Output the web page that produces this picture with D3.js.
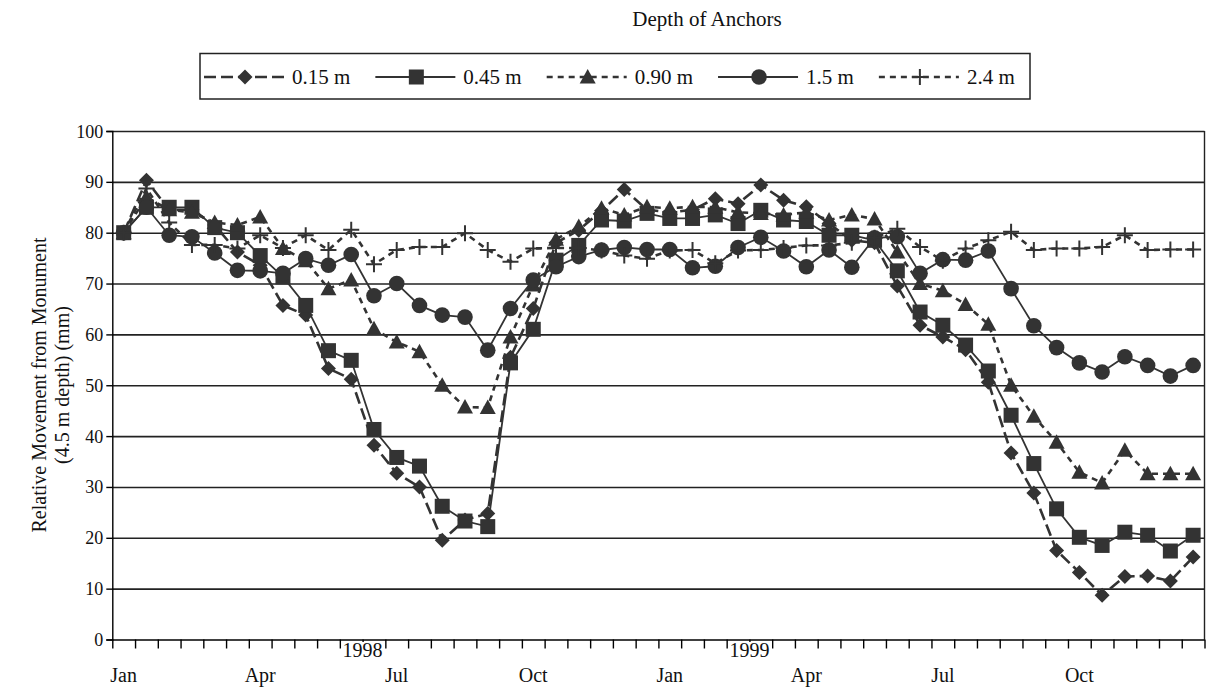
<!DOCTYPE html>
<html><head><meta charset="utf-8">
<script src="https://cdn.jsdelivr.net/npm/d3@7"></script>
<style>
html,body{margin:0;padding:0;background:#fff;}
svg{display:block;}
</style></head><body>
<svg id="chart" width="1206" height="691" font-family="'Liberation Serif','Times New Roman',serif"></svg>
<script>
// ---------------- data ----------------
const seriesNames = ["0.15 m", "0.45 m", "0.90 m", "1.5 m", "2.4 m"];
const d015 = [80, 90.3, 84.5, 84.5, 81.5, 76.2, 73.6, 65.7, 63.8, 53.3, 51.2, 38.2, 32.7, 30, 19.5, 23.5, 24.8, 55.5, 65.1, 78, 80.5, 84.3, 88.5, 84.5, 84, 84.5, 86.7, 85.7, 89.4, 86.4, 85.1, 81.8, 78.5, 78, 69.5, 61.8, 59.5, 57, 50.6, 36.7, 28.8, 17.5, 13.2, 8.7, 12.4, 12.5, 11.5, 16.2];
const d045 = [80, 85, 85, 85, 81, 80, 75.5, 71.3, 65.7, 56.8, 54.9, 41.3, 35.8, 34.1, 26.2, 23.3, 22.2, 54.4, 61, 74.6, 77.5, 82.5, 82.3, 83.8, 82.8, 82.8, 83.5, 81.8, 84.4, 82.5, 82.2, 79.5, 79.5, 78.5, 72.5, 64.4, 61.8, 57.9, 52.8, 44.1, 34.6, 25.7, 20.1, 18.5, 21.1, 20.5, 17.4, 20.5];
const d090 = [80, 87, 84.5, 84, 82, 81.5, 83.1, 76.9, 74.5, 69, 70.7, 61.1, 58.5, 56.6, 50, 45.7, 45.6, 59.5, 69.7, 78.7, 81.2, 84.8, 83.5, 85.1, 84.8, 85.1, 85, 84, 83.8, 83.5, 84, 82.5, 83.5, 82.7, 76.2, 70, 68.6, 65.9, 62, 50, 43.9, 38.8, 32.9, 30.8, 37.2, 32.6, 32.6, 32.6];
const d150 = [80, 85, 79.5, 79.2, 76, 72.6, 72.5, 72, 74.9, 73.6, 75.7, 67.6, 70, 65.7, 63.8, 63.4, 56.9, 65.1, 70.7, 73.3, 75.3, 76.6, 77.1, 76.7, 76.7, 73.1, 73.4, 77.1, 79.1, 76.4, 73.3, 76.6, 73.2, 79, 79.2, 72, 74.7, 74.6, 76.4, 69, 61.7, 57.4, 54.4, 52.6, 55.6, 53.9, 51.8, 53.9];
const d240 = [80, 88.7, 82, 77.6, 77.6, 76.9, 79.5, 77, 79.5, 76.6, 80.6, 73.8, 76.6, 77.2, 77.2, 79.9, 76.6, 74.3, 76.9, 77, 77, 76.5, 75.5, 74.9, 76.5, 76.6, 74, 76.5, 76.6, 77, 77.5, 77.5, 78, 79, 80.8, 77.2, 74.5, 76.9, 78.5, 80.2, 76.6, 76.9, 76.9, 77.2, 79.5, 76.6, 76.7, 76.7];
const monthLabels = ["Jan", "Apr", "Jul", "Oct", "Jan", "Apr", "Jul", "Oct"];
const monthCats = [0, 6, 12, 18, 24, 30, 36, 42];
const yearLabels = ["1998", "1999"];
const yearTicks = [11, 28];
const yTicks = [0, 10, 20, 30, 40, 50, 60, 70, 80, 90, 100];
const nCats = 48;
const titleText = "Depth of Anchors";
const yTitle1 = "Relative Movement from Monument";
const yTitle2 = "(4.5 m depth) (mm)";

// ---------------- layout / style ----------------
const INK = "#333";
const styles = [
  {marker: "diamond", dash: "12,5", width: 2.6},
  {marker: "square", dash: null, width: 1.8},
  {marker: "triangle", dash: "6,5", width: 2.6},
  {marker: "circle", dash: null, width: 1.8},
  {marker: "plus", dash: "6,5", width: 2.6}
];
const allSeries = [d015, d045, d090, d150, d240];

const svg = d3.select("#chart");
const L = 112.3, R = 1204.5, T = 131, B = 639.5;
const x = d3.scaleLinear().domain([0, nCats]).range([L, R]);
const y = d3.scaleLinear().domain([0, 100]).range([B, T]);
const cx = i => x(i + 0.5);

// gridlines
svg.append("g")
  .attr("transform", `translate(${L},0)`)
  .call(d3.axisLeft(y).tickValues(yTicks.filter(v => v > 0)).tickSize(-(R - L)).tickFormat(""))
  .call(g => g.select(".domain").remove())
  .call(g => g.selectAll("line").attr("stroke", "#222").attr("stroke-width", 1.6));

// right border
svg.append("line").attr("x1", R).attr("x2", R).attr("y1", y(100)).attr("y2", y(0))
  .attr("stroke", "#222").attr("stroke-width", 1.4);

// y axis
svg.append("g")
  .attr("transform", `translate(${L},0)`)
  .call(d3.axisLeft(y).tickValues(yTicks).tickSize(6).tickFormat(""))
  .call(g => g.selectAll("line,path").attr("stroke", "#000").attr("stroke-width", 1.4));

// y tick labels
svg.append("g").selectAll("text").data(yTicks).join("text")
  .attr("x", L - 9).attr("y", d => y(d) + 6.5)
  .attr("text-anchor", "end").attr("font-size", 18).attr("fill", "#111")
  .text(d => d);

// x axis (category boundaries)
svg.append("g")
  .attr("transform", `translate(0,${B})`)
  .call(d3.axisBottom(x).tickValues(d3.range(0, nCats + 1)).tickSize(9).tickFormat("").tickSizeOuter(0))
  .call(g => g.selectAll("line,path").attr("stroke", "#000").attr("stroke-width", 1.4));

// year labels (with white background over ticks)
const yr = svg.append("g").selectAll("g").data(yearLabels).join("g")
  .attr("transform", (d, i) => `translate(${x(yearTicks[i])},657)`);
yr.append("rect").attr("x", -21).attr("y", -15).attr("width", 42).attr("height", 19).attr("fill", "#fff");
yr.append("text").attr("text-anchor", "middle").attr("font-size", 20).attr("fill", "#111").text(d => d);

// month labels
svg.append("g").selectAll("text").data(monthLabels).join("text")
  .attr("x", (d, i) => cx(monthCats[i])).attr("y", 682)
  .attr("text-anchor", "middle").attr("font-size", 20).attr("fill", "#111")
  .text(d => d);

// y title
svg.append("text").attr("transform", "translate(46,385) rotate(-90)")
  .attr("text-anchor", "middle").attr("font-size", 20).attr("fill", "#111").text(yTitle1);
svg.append("text").attr("transform", "translate(69,385) rotate(-90)")
  .attr("text-anchor", "middle").attr("font-size", 20).attr("fill", "#111").text(yTitle2);

// title
svg.append("text").attr("x", 707).attr("y", 26).attr("text-anchor", "middle")
  .attr("font-size", 21).attr("fill", "#111").text(titleText);

// marker drawing
function drawMarker(g, type) {
  if (type === "diamond") {
    g.append("path").attr("d", "M0,-7.5L7.5,0L0,7.5L-7.5,0Z").attr("fill", INK);
  } else if (type === "square") {
    g.append("rect").attr("x", -7.5).attr("y", -7.5).attr("width", 15).attr("height", 15).attr("fill", INK);
  } else if (type === "triangle") {
    g.append("path").attr("d", "M0,-8L8,6.5L-8,6.5Z").attr("fill", INK);
  } else if (type === "circle") {
    g.append("circle").attr("r", 7.8).attr("fill", INK);
  } else if (type === "plus") {
    g.append("path").attr("d", "M-8,0H8M0,-8V8").attr("stroke", INK).attr("stroke-width", 2).attr("fill", "none");
  }
}

// series
const line = d3.line().x((d, i) => cx(i)).y(d => y(d));
allSeries.forEach((data, s) => {
  const st = styles[s];
  const g = svg.append("g");
  g.append("path").datum(data).attr("d", line)
    .attr("fill", "none").attr("stroke", INK).attr("stroke-width", st.width)
    .attr("stroke-dasharray", st.dash);
  g.selectAll("g.m").data(data).join("g").attr("class", "m")
    .attr("transform", (d, i) => `translate(${cx(i)},${y(d)})`)
    .each(function () { drawMarker(d3.select(this), st.marker); });
});

// legend
const lg = svg.append("g");
lg.append("rect").attr("x", 200).attr("y", 53.5).attr("width", 830).attr("height", 45.5)
  .attr("fill", "#fff").attr("stroke", "#222").attr("stroke-width", 1.5);
let lx = 204;
const ly = 77;
seriesNames.forEach((name, s) => {
  const st = styles[s];
  const item = lg.append("g").attr("transform", `translate(${lx},${ly})`);
  item.append("line").attr("x1", 0).attr("x2", 80).attr("y1", 0).attr("y2", 0)
    .attr("stroke", INK).attr("stroke-width", st.width).attr("stroke-dasharray", st.dash);
  const m = item.append("g").attr("transform", "translate(41,0)");
  drawMarker(m, st.marker);
  const t = item.append("text").attr("x", 88).attr("y", 7).attr("font-size", 21).attr("fill", "#111").text(name);
  lx += 88 + t.node().getComputedTextLength() + 25;
});
</script>
</body></html>
